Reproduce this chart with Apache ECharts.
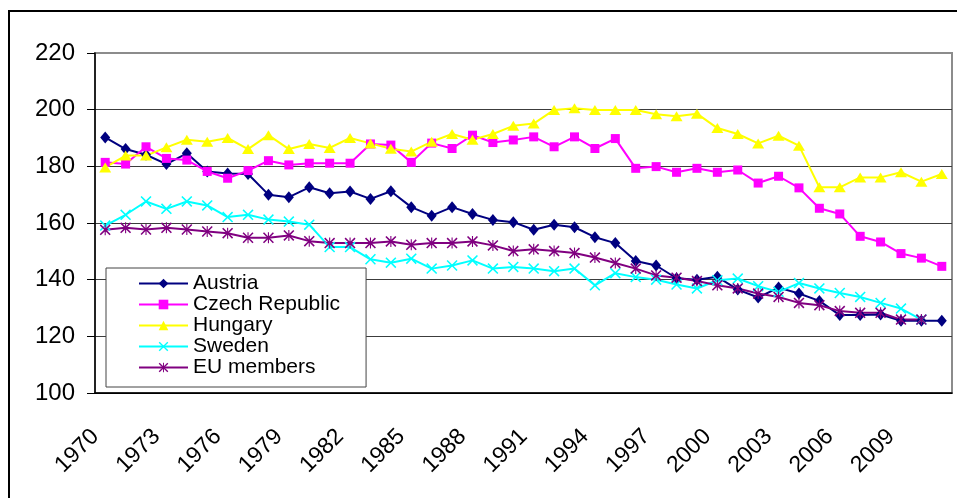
<!DOCTYPE html>
<html>
<head>
<meta charset="utf-8">
<script src="https://cdn.jsdelivr.net/npm/echarts@6/dist/echarts.min.js"></script>
<style>
  html, body { margin: 0; padding: 0; background: #fff; }
  #chart { width: 957px; height: 498px; }
</style>
</head>
<body>
<div id="chart"></div>
<script>
const years = ["1970", "1971", "1972", "1973", "1974", "1975", "1976", "1977", "1978", "1979",
  "1980", "1981", "1982", "1983", "1984", "1985", "1986", "1987", "1988", "1989",
  "1990", "1991", "1992", "1993", "1994", "1995", "1996", "1997", "1998", "1999",
  "2000", "2001", "2002", "2003", "2004", "2005", "2006", "2007", "2008", "2009",
  "2010", "2011"];

const austria = [190.2, 186.1, 184.1, 180.8, 184.6, 178.2, 177.5, 177.3, 170.0, 169.1,
  172.6, 170.5, 171.1, 168.5, 171.2, 165.6, 162.6, 165.6, 163.2, 161.1,
  160.3, 157.6, 159.4, 158.5, 155.0, 152.9, 146.6, 145.0, 140.5, 140.0,
  141.0, 136.5, 133.7, 137.2, 135.1, 132.5, 127.5, 127.5, 127.7, 125.5,
  125.5, 125.5];

const czech = [181.4, 180.8, 186.9, 182.8, 182.2, 178.2, 175.8, 178.5, 182.0, 180.5,
  181.1, 181.1, 181.1, 187.9, 187.5, 181.4, 188.2, 186.3, 191.0, 188.4,
  189.3, 190.4, 186.9, 190.4, 186.3, 189.8, 179.3, 179.9, 177.9, 179.3,
  177.9, 178.7, 174.1, 176.5, 172.4, 165.2, 163.2, 155.3, 153.3, 149.2,
  147.6, 144.7];

const hungary = [179.6, 183.8, 183.8, 186.7, 189.4, 188.7, 190.0, 186.1, 191.0, 186.1,
  187.9, 186.5, 190.0, 188.1, 186.2, 185.2, 188.7, 191.4, 189.4, 191.4,
  194.3, 195.1, 199.9, 200.5, 199.9, 199.9, 199.9, 198.4, 197.7, 198.6,
  193.5, 191.4, 188.1, 190.8, 187.3, 172.6, 172.6, 176.1, 176.1, 177.9,
  174.6, 177.3];

const sweden = [159.1, 162.9, 167.6, 165.0, 167.6, 166.2, 162.1, 162.9, 161.2, 160.5,
  159.4, 151.5, 151.5, 147.2, 146.0, 147.4, 143.9, 145.0, 146.8, 143.9,
  144.5, 143.9, 143.0, 143.9, 138.0, 142.3, 140.9, 140.0, 138.3, 136.9,
  139.8, 140.4, 137.7, 135.7, 138.8, 136.9, 135.3, 133.9, 131.8, 129.8,
  125.9, null];

const euMembers = [157.6, 158.3, 157.7, 158.3, 157.7, 157.0, 156.4, 154.8, 154.8, 155.6,
  153.6, 152.9, 152.9, 152.9, 153.5, 152.3, 152.9, 152.9, 153.5, 152.1,
  150.1, 150.7, 150.1, 149.4, 147.8, 145.9, 143.9, 141.5, 140.7, 139.5,
  138.0, 136.9, 135.1, 133.9, 131.8, 131.0, 128.9, 128.3, 128.3, 125.9,
  125.9, null];

const yTicks = [100, 120, 140, 160, 180, 200, 220];

// x marker and asterisk, drawn as filled shapes
const xMark = "path://M0,2 L2,0 L10,8 L18,0 L20,2 L12,10 L20,18 L18,20 L10,12 L2,20 L0,18 L8,10 Z";
const starMark = xMark + " M9,0 L11,0 L11,20 L9,20 Z";

const font = "Liberation Sans, Arial, sans-serif";

function line(name, data, color, symbol, size) {
  return {
    name: name,
    type: "line",
    data: data,
    color: color,
    symbol: symbol,
    symbolSize: size,
    showAllSymbol: true,
    lineStyle: { width: 2, color: color },
    itemStyle: { color: color },
    emphasis: { disabled: true }
  };
}

const chart = echarts.init(document.getElementById("chart"));
chart.setOption({
  animation: false,
  backgroundColor: "#fff",
  textStyle: { fontFamily: font },
  graphic: [{
    type: "rect",
    shape: { x: 9, y: 11, width: 1000, height: 1000 },
    style: { fill: "none", stroke: "#000", lineWidth: 2 },
    z: 100
  }],
  grid: {
    left: 95, right: 5, top: 53, bottom: 105,
    show: true, borderColor: "#8c8c8c", borderWidth: 2
  },
  legend: {
    orient: "vertical",
    left: 106, top: 268,
    padding: [5, 26, 9, 32],
    itemWidth: 49, itemHeight: 12, itemGap: 0,
    backgroundColor: "#fff",
    borderColor: "#444", borderWidth: 1,
    textStyle: { fontFamily: font, fontSize: 21, lineHeight: 21, color: "#000" },
    data: ["Austria", "Czech Republic", "Hungary", "Sweden", "EU members"]
  },
  xAxis: {
    type: "category",
    data: years,
    boundaryGap: true,
    axisLine: { lineStyle: { color: "#000", width: 1.5 } },
    axisTick: { interval: 0, length: 6, lineStyle: { color: "#000" } },
    axisLabel: {
      interval: 2, rotate: 45, margin: 30,
      padding: [0, 14, 0, 0],
      fontFamily: font, fontSize: 23, color: "#000"
    },
    splitLine: { show: false }
  },
  yAxis: {
    type: "value",
    min: yTicks[0], max: yTicks[yTicks.length - 1], interval: 20,
    axisLine: { show: true, lineStyle: { color: "#000", width: 1.5 } },
    axisTick: { show: true, length: 8, lineStyle: { color: "#000" } },
    axisLabel: { margin: 20, fontFamily: font, fontSize: 24, color: "#000" },
    splitLine: {
      lineStyle: {
        color: ["#000", "#3c3c3c", "#3c3c3c", "#3c3c3c", "#3c3c3c", "#3c3c3c", "#8c8c8c"],
        width: 1.2
      }
    }
  },
  series: [
    line("Austria", austria, "#000080", "diamond", [10, 12]),
    line("Czech Republic", czech, "#ff00ff", "rect", 9),
    line("Hungary", hungary, "#ffff00", "triangle", [12, 10]),
    line("Sweden", sweden, "#00ffff", xMark, 11),
    line("EU members", euMembers, "#800080", starMark, 11)
  ]
});
</script>
</body>
</html>
